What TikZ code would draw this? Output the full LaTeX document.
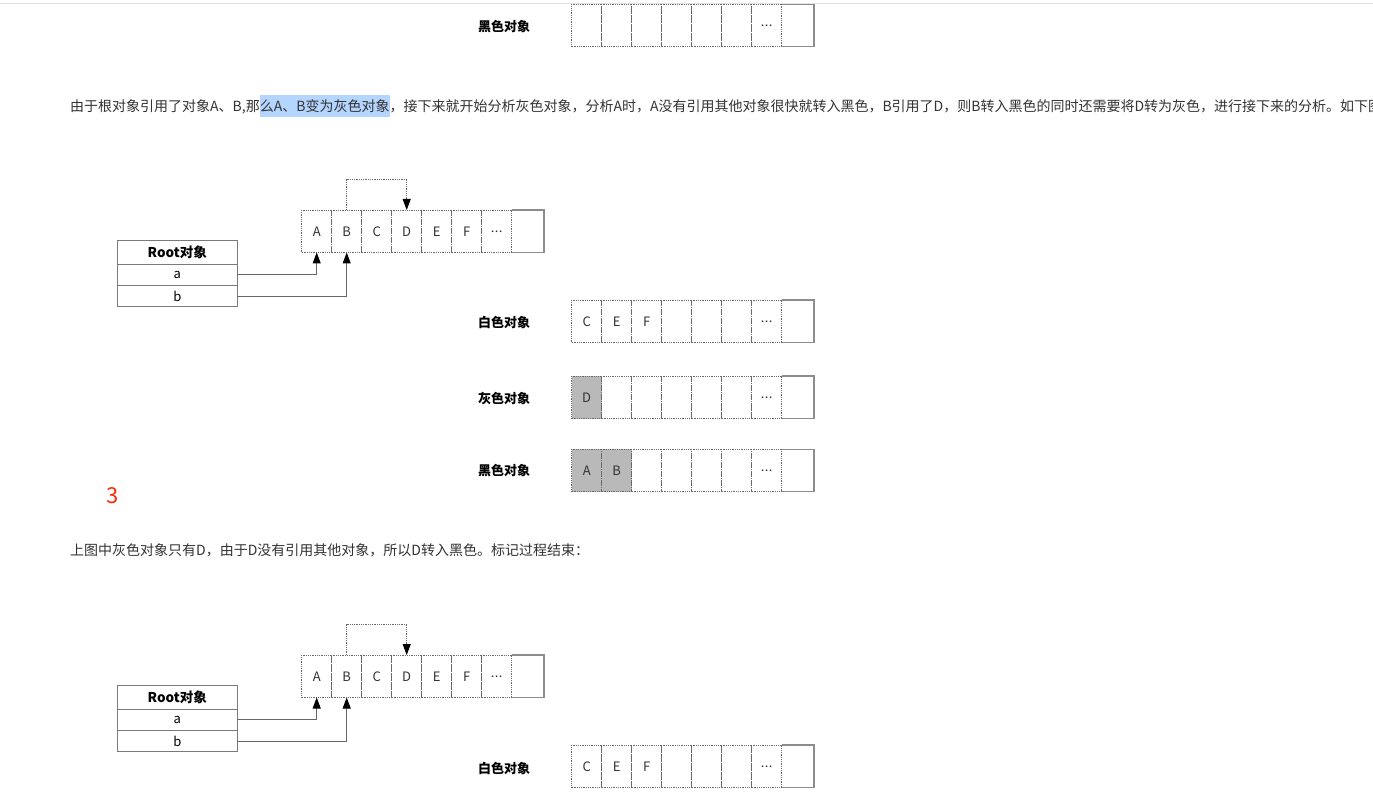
\documentclass[tikz,border=0pt]{standalone}
\usepackage{fontspec}
\setmainfont{Noto Sans CJK SC}
\usetikzlibrary{arrows.meta}
\definecolor{txt}{HTML}{333333}
\definecolor{cellgray}{HTML}{B9B9B9}
\definecolor{dotc}{HTML}{6A6A6A}
\definecolor{solidc}{HTML}{8C8C8C}
\definecolor{boxc}{HTML}{7A7A7A}
\definecolor{connc}{HTML}{666666}
\definecolor{hlblue}{HTML}{B4D5FE}
\definecolor{redc}{HTML}{FF2A0A}
\definecolor{toplinec}{HTML}{E3E3E3}
\newcommand\hlt[1]{{\setlength\fboxsep{0pt}\colorbox{hlblue}{\rule[-6pt]{0pt}{22pt}#1}}}
\newcommand\tdots{\raisebox{-2pt}{.\kern0.4pt.\kern0.4pt.}}
\newcommand\objrow[4]{%
  \foreach \lab/\fl [count=\i] in {#4} {
    \node[dcell,\fl] (#1\i) at ({#2+30*(\i-1)},#3) {\lab};
  }
  \node[lcell] (#1e) at ({#2+210},#3) {};
  \draw[solidc, line width=1.3pt] (#1e.north west) -- (#1e.north east) -- (#1e.south east) -- (#1e.south west);
}
\begin{document}
\begin{tikzpicture}[x=1pt,y=-1pt,
  dcell/.style={draw=dotc, dash pattern=on 0.9pt off 0.9pt, line width=0.8pt,
    minimum width=30pt, minimum height=42.5pt, inner sep=0pt, outer sep=0pt,
    anchor=north west, text=txt, font=\fontsize{13}{15}\selectfont},
  wc/.style={},
  gc/.style={fill=cellgray},
  lcell/.style={minimum width=32.3pt, minimum height=42.5pt, inner sep=0pt, outer sep=0pt, anchor=north west},
  rbox/.style={draw=boxc, line width=1.2pt, minimum width=120pt, inner sep=0pt, outer sep=0pt,
    anchor=north west, text=black, font=\fontsize{13}{15}\selectfont},
  lab/.style={anchor=west, inner sep=0pt, text=black, font=\bfseries\fontsize{13}{15}\selectfont},
  para/.style={anchor=base west, inner sep=0pt, text=txt, font=\fontsize{14}{16}\selectfont},
  conn/.style={draw=connc, line width=1pt, -{Triangle[length=11pt,width=8pt,fill=black,color=black]}},
  dconn/.style={draw=dotc, line width=0.9pt, dash pattern=on 0.9pt off 0.9pt, -{Triangle[length=11pt,width=8pt,fill=black,color=black]}}
]
\path[use as bounding box, clip] (0,0) rectangle (1373,802);
\fill[white] (0,0) rectangle (1373,802);
\draw[toplinec, line width=1pt] (0,3.5) -- (1373,3.5);

% top black row (from previous figure)
\node[lab] (l0) at (478,26.5) {黑色对象};
\objrow{k}{571.7}{4.3}{{}/wc,{}/wc,{}/wc,{}/wc,{}/wc,{}/wc,\tdots/wc}

% paragraph 1
\node[para] (p1) at (70,111.3) {由于根对象引用了对象A、B,那\hlt{么A、B变为灰色对象}，接下来就开始分析灰色对象，分析A时，A没有引用其他对象很快就转入黑色，B引用了D，则B转入黑色的同时还需要将D转为灰色，进行接下来的分析。如下图};

% diagram 1
\objrow{d}{301.7}{210}{A/wc,B/wc,C/wc,D/wc,E/wc,F/wc,\tdots/wc}
\node[rbox, minimum height=23.6pt, font=\bfseries\fontsize{13.5}{15}\selectfont] (rh) at (117.3,240.7) {Root对象};
\node[rbox, minimum height=21.2pt] (ra) at (117.3,264.3) {a};
\node[rbox, minimum height=21.2pt] (rb) at (117.3,285.5) {b};
\draw[conn] (ra.east) -| (d1.south);
\draw[conn] (rb.east) -| (d2.south);
\draw[dconn] (d2.north) -- ++(0,-30.7) -| (d4.north);

\node[lab] (lw) at (478,323) {白色对象};
\objrow{w}{571.7}{300}{C/wc,E/wc,F/wc,{}/wc,{}/wc,{}/wc,\tdots/wc}
\node[lab] (lg) at (478,398.5) {灰色对象};
\objrow{g}{571.7}{376}{D/gc,{}/wc,{}/wc,{}/wc,{}/wc,{}/wc,\tdots/wc}
\node[lab] (lb) at (478,471) {黑色对象};
\objrow{b}{571.7}{449.3}{A/gc,B/gc,{}/wc,{}/wc,{}/wc,{}/wc,\tdots/wc}

\node[text=redc, inner sep=0pt, font=\fontsize{22}{24}\selectfont] (n3) at (113,496) {3};

% paragraph 2
\node[para] (p2) at (70,555.3) {上图中灰色对象只有D，由于D没有引用其他对象，所以D转入黑色。标记过程结束：};

% diagram 2
\objrow{e}{301.7}{655}{A/wc,B/wc,C/wc,D/wc,E/wc,F/wc,\tdots/wc}
\node[rbox, minimum height=23.6pt, font=\bfseries\fontsize{13.5}{15}\selectfont] (sh) at (117.3,685.7) {Root对象};
\node[rbox, minimum height=21.2pt] (sa) at (117.3,709.3) {a};
\node[rbox, minimum height=21.2pt] (sb) at (117.3,730.5) {b};
\draw[conn] (sa.east) -| (e1.south);
\draw[conn] (sb.east) -| (e2.south);
\draw[dconn] (e2.north) -- ++(0,-30.7) -| (e4.north);

\node[lab] (lw2) at (478,768) {白色对象};
\objrow{v}{571.7}{745}{C/wc,E/wc,F/wc,{}/wc,{}/wc,{}/wc,\tdots/wc}
\end{tikzpicture}
\end{document}
